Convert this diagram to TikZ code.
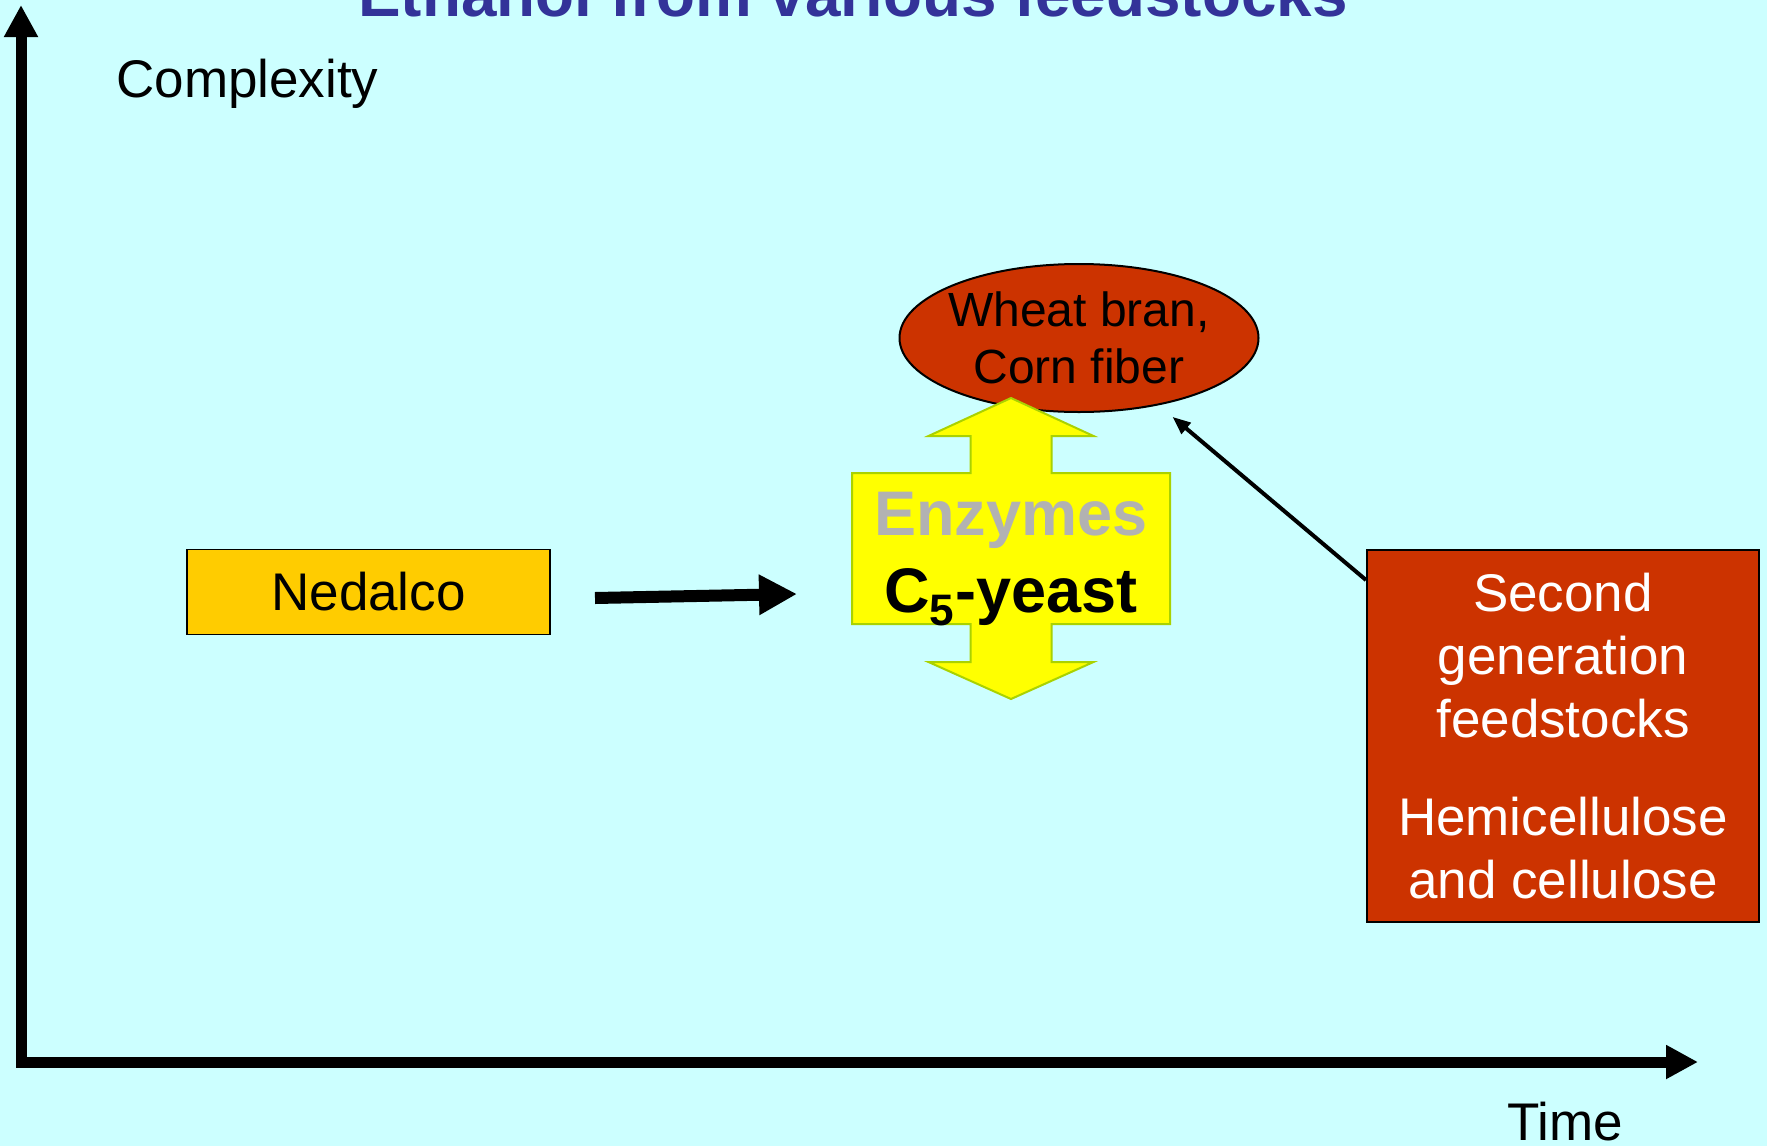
\documentclass[tikz,border=0pt]{standalone}
\usepackage{fontspec}
\setmainfont{Liberation Sans}
\usepackage{tikz}
\usetikzlibrary{arrows.meta,shapes.geometric}

\definecolor{bgcyan}{HTML}{CCFFFF}
\definecolor{titleblue}{HTML}{333399}
\definecolor{boxred}{HTML}{CC3300}
\definecolor{boxgold}{HTML}{FFCC00}
\definecolor{arrowyellow}{HTML}{FFFF00}
\definecolor{arrowrim}{HTML}{AAD200}
\definecolor{enzgray}{HTML}{B2B2B2}

\tikzset{
  bodytext/.style={font=\fontsize{26.5}{31.5}\selectfont},
  axis/.style={line width=5.5pt, -{Triangle[width=16pt,length=16pt]}},
  fatarrow/.style={line width=6pt, -{Triangle[width=19pt,length=19pt]}},
  thinarrow/.style={line width=2pt, -{Triangle[width=7pt,length=9pt]}},
}

\begin{document}
\begin{tikzpicture}[x=0.5pt, y=-0.5pt]
    \clip (0,0) rectangle (1767,1146);
    \fill[bgcyan] (0,0) rectangle (1767,1146);
    % title and axes
    \node[font=\bfseries\fontsize{31.9}{38}\selectfont, text=titleblue, anchor=base] (title) at (853,16) {Ethanol from various feedstocks};
    \draw[axis] (21,1067) -- (21,5);
    \draw[axis] (16,1062) -- (1698,1062);
    \node[bodytext, inner sep=0pt, anchor=base west] (ylabel) at (116,97) {Complexity};
    \node[bodytext, anchor=base] (xlabel) at (1565,1140) {Time};
    % feedstocks
    \node[bodytext, draw=black, line width=0.75pt, fill=boxgold, minimum width=181.5pt, minimum height=42.5pt, inner sep=0pt] (nedalco) at (368.5,592) {Nedalco};
    \node[draw=black, line width=1pt, fill=boxred, ellipse, minimum width=179.5pt, minimum height=74pt, inner ysep=0pt, inner xsep=-2.5pt, align=center, font=\fontsize{24}{28.5}\selectfont] (bran) at (1079,338) {Wheat bran,\\Corn fiber};
    \node[bodytext, draw=black, line width=0.75pt, fill=boxred, text=white, minimum width=196pt, minimum height=186pt, inner sep=0pt, align=center] (second) at (1563,736) {Second\\generation\\feedstocks\\[17.5pt]Hemicellulose\\and cellulose};
    % up and down arrow
    \filldraw[fill=arrowyellow, draw=arrowrim, line width=1pt] (852,473) -- (970.5,473) -- (970.5,436) -- (928.5,436) -- (1011,398) -- (1093.5,436) -- (1051.5,436) -- (1051.5,473) -- (1170,473) -- (1170,624) -- (1051.5,624) -- (1051.5,662) -- (1093.5,662) -- (1011,699) -- (928.5,662) -- (970.5,662) -- (970.5,624) -- (852,624) -- cycle;
    \node[font=\bfseries\fontsize{31.5}{38}\selectfont, text=enzgray, anchor=base] (enzymes) at (1011,535) {Enzymes};
    \node[font=\bfseries\fontsize{31.5}{38}\selectfont, anchor=base] (yeast) at (1011,612) {C\textsubscript{5}-yeast};
    % connectors
    \coordinate (nedout) at (595,598);
    \coordinate (yeastin) at (797,594);
    \draw[fatarrow] (nedout) -- (yeastin);
    \coordinate (secout) at (1366,580);
    \draw[thinarrow, shorten >=9pt] (secout) -- (bran);
\end{tikzpicture}
\end{document}
